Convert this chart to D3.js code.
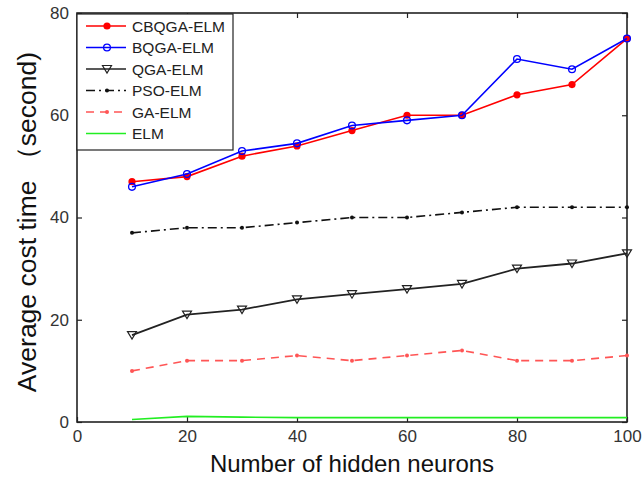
<!DOCTYPE html>
<html>
<head>
<meta charset="utf-8">
<script src="https://cdn.jsdelivr.net/npm/d3@7"></script>
<style>
  body { margin: 0; background: #fff; }
  text { font-family: Arial, "Liberation Sans", sans-serif; }
</style>
</head>
<body>
<svg id="chart" width="642" height="479"></svg>
<script>
var neurons = [10, 20, 30, 40, 50, 60, 70, 80, 90, 100];
var cbqgaElm = [47, 48, 52, 54, 57, 60, 60, 64, 66, 75];
var bqgaElm = [46, 48.5, 53, 54.5, 58, 59, 60, 71, 69, 75];
var qgaElm = [17, 21, 22, 24, 25, 26, 27, 30, 31, 33];
var psoElm = [37, 38, 38, 39, 40, 40, 41, 42, 42, 42];
var gaElm = [10, 12, 12, 13, 12, 13, 14, 12, 12, 13];
var elm = [0.5, 1.1, 0.95, 0.85, 0.85, 0.85, 0.85, 0.85, 0.85, 0.85];
var xTicks = [0, 20, 40, 60, 80, 100];
var yTicks = [0, 20, 40, 60, 80];

var seriesList = [
  { name: 'CBQGA-ELM', values: cbqgaElm, color: '#ff0000', dash: null, marker: 'dotFilled' },
  { name: 'BQGA-ELM', values: bqgaElm, color: '#0000ff', dash: null, marker: 'dotOpen' },
  { name: 'QGA-ELM', values: qgaElm, color: '#222222', dash: null, marker: 'triangle' },
  { name: 'PSO-ELM', values: psoElm, color: '#111111', dash: '9,4,2,4', marker: 'small' },
  { name: 'GA-ELM', values: gaElm, color: '#ff5555', dash: '8,6', marker: 'small' },
  { name: 'ELM', values: elm, color: '#22ee22', dash: null, marker: null }
];

var plotLeft = 77, plotRight = 627, plotTop = 13, plotBottom = 422;
var svg = d3.select('#chart');

var x = d3.scaleLinear().domain([0, 100]).range([plotLeft, plotRight]);
var y = d3.scaleLinear().domain([0, 80]).range([plotBottom, plotTop]);

// inward ticks on all four sides
svg.append('g').attr('transform', 'translate(0,' + plotBottom + ')')
  .call(d3.axisBottom(x).tickValues(xTicks).tickSizeInner(-5).tickSizeOuter(0).tickPadding(8))
  .call(function(g) { g.select('.domain').remove(); });
svg.append('g').attr('transform', 'translate(0,' + plotTop + ')')
  .call(d3.axisTop(x).tickValues(xTicks).tickSizeInner(-5).tickSizeOuter(0).tickFormat(''))
  .call(function(g) { g.select('.domain').remove(); });
svg.append('g').attr('transform', 'translate(' + plotLeft + ',0)')
  .call(d3.axisLeft(y).tickValues(yTicks).tickSizeInner(-5).tickSizeOuter(0).tickPadding(8))
  .call(function(g) { g.select('.domain').remove(); });
svg.append('g').attr('transform', 'translate(' + plotRight + ',0)')
  .call(d3.axisRight(y).tickValues(yTicks).tickSizeInner(-5).tickSizeOuter(0).tickFormat(''))
  .call(function(g) { g.select('.domain').remove(); });

svg.selectAll('.tick line').attr('stroke', '#222').attr('stroke-width', 1.2);
svg.selectAll('.tick text').attr('font-size', 17).attr('fill', '#333')
  .attr('font-family', 'Arial, "Liberation Sans", sans-serif');

svg.append('rect').attr('x', plotLeft).attr('y', plotTop)
  .attr('width', plotRight - plotLeft).attr('height', plotBottom - plotTop)
  .attr('fill', 'none').attr('stroke', '#222').attr('stroke-width', 1.6);

var line = d3.line()
  .x(function(d, i) { return x(neurons[i]); })
  .y(function(d) { return y(d); });

function drawMarker(g, s, cx, cy) {
  if (s.marker === 'dotFilled') {
    g.append('circle').attr('cx', cx).attr('cy', cy).attr('r', 3.6).attr('fill', s.color);
  } else if (s.marker === 'dotOpen') {
    g.append('circle').attr('cx', cx).attr('cy', cy).attr('r', 3.4)
      .attr('fill', 'none').attr('stroke', s.color).attr('stroke-width', 1.3);
  } else if (s.marker === 'triangle') {
    g.append('path')
      .attr('d', 'M' + (cx - 4.5) + ',' + (cy - 3.5) + 'L' + (cx + 4.5) + ',' + (cy - 3.5) + 'L' + cx + ',' + (cy + 4) + 'Z')
      .attr('fill', 'none').attr('stroke', s.color).attr('stroke-width', 1.2);
  } else if (s.marker === 'small') {
    g.append('circle').attr('cx', cx).attr('cy', cy).attr('r', 2).attr('fill', s.color);
  }
}

seriesList.forEach(function(s) {
  var g = svg.append('g');
  g.append('path').datum(s.values)
    .attr('d', line)
    .attr('fill', 'none')
    .attr('stroke', s.color)
    .attr('stroke-width', s.marker === 'triangle' ? 1.8 : 1.6)
    .attr('stroke-dasharray', s.dash);
  s.values.forEach(function(v, i) {
    drawMarker(g, s, x(neurons[i]), y(v));
  });
});

// legend
var legend = svg.append('g');
legend.append('rect').attr('x', plotLeft).attr('y', 14).attr('width', 156).attr('height', 136)
  .attr('fill', '#fff').attr('stroke', '#222').attr('stroke-width', 1.2);
seriesList.forEach(function(s, i) {
  var ly = 26 + i * 21.5;
  legend.append('line').attr('x1', 86).attr('x2', 126).attr('y1', ly).attr('y2', ly)
    .attr('stroke', s.color).attr('stroke-width', 1.6).attr('stroke-dasharray', s.dash);
  drawMarker(legend, s, 107, ly);
  legend.append('text').attr('x', 132).attr('y', ly + 5.5)
    .attr('font-size', 15.5).attr('fill', '#222').text(s.name);
});

svg.append('text').attr('x', (plotLeft + plotRight) / 2).attr('y', 472)
  .attr('text-anchor', 'middle').attr('font-size', 24).attr('fill', '#111')
  .text('Number of hidden neurons');

svg.append('text').attr('transform', 'translate(36,222) rotate(-90)')
  .attr('text-anchor', 'middle').attr('font-size', 26.5).attr('fill', '#111')
  .text('Average cost time （second)');
</script>
</body>
</html>
